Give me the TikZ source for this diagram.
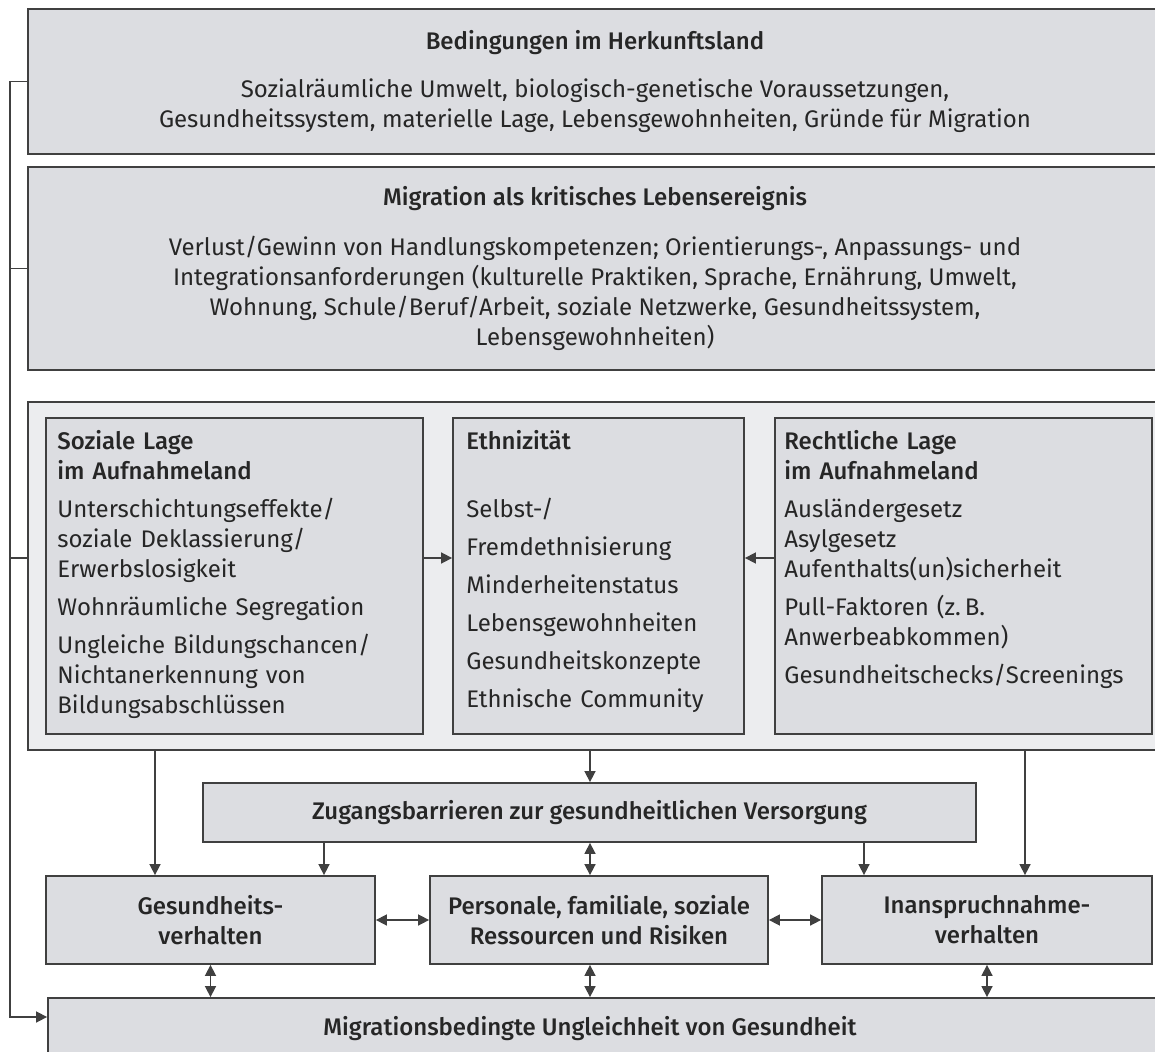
\documentclass[tikz,border=0pt]{standalone}
\usepackage{fontspec}
\setmainfont{Fira Sans}[BoldFont={Fira Sans Medium}]
\usetikzlibrary{arrows.meta,fit}

\definecolor{boxgray}{RGB}{220,221,225}
\definecolor{framegray}{RGB}{236,237,239}
\definecolor{linegray}{RGB}{64,64,64}
\definecolor{txtgray}{RGB}{38,38,38}

\tikzset{
  box/.style={draw=linegray, line width=0.9pt, fill=boxgray, inner sep=0pt},
  frame/.style={box, fill=framegray},
  boxtxt/.style={text=txtgray, inner sep=0pt, align=center, anchor=center},
  txt/.style={text=txtgray, inner sep=0pt, align=left, text width=#1, anchor=base west},
  rail/.style={draw=linegray, line width=0.8pt},
  arr/.style={rail, -{Triangle[length=5.5pt,width=5.5pt]}},
  darr/.style={rail, {Triangle[length=5.5pt,width=5.5pt]}-{Triangle[length=5.5pt,width=5.5pt]}},
}

\begin{document}
\begin{tikzpicture}[x=0.5pt, y=-0.5pt, font=\fontsize{12}{15}\selectfont]
  \useasboundingbox (0,0) rectangle (1155,1052);
  \clip (0,0) rectangle (1155,1052);

  % Herkunftsland
  \node[box, fit={(28,9) (1162,154)}] (herkunft) {};
  \node[boxtxt] (herkunfttxt) at (herkunft.center) {\textbf{Bedingungen im Herkunftsland}\\[9pt]
    Sozialräumliche Umwelt, biologisch-genetische Voraussetzungen,\\
    Gesundheitssystem, materielle Lage, Lebensgewohnheiten, Gründe für Migration};

  % Migration
  \node[box, fit={(28,167) (1162,370)}] (migration) {};
  \node[boxtxt] (migrationtxt) at (migration.center) {\textbf{Migration als kritisches Lebensereignis}\\[10pt]
    Verlust/Gewinn von Handlungskompetenzen; Orientierungs-, Anpassungs- und\\
    Integrationsanforderungen (kulturelle Praktiken, Sprache, Ernährung, Umwelt,\\
    Wohnung, Schule/Beruf/Arbeit, soziale Netzwerke, Gesundheitssystem,\\
    Lebensgewohnheiten)};

  % Aufnahmeland (gray frame with three boxes)
  \node[frame, fit={(28,402) (1162,750)}] (lage) {};
  \node[box, fit={(46,418) (423,734)}] (sozial) {};
  \node[box, fit={(453,418) (744,734)}] (ethnie) {};
  \node[box, fit={(775,418) (1152,734)}] (recht) {};

  \node[txt=180pt] (sozialtxt) at (57,450) {\textbf{Soziale Lage}\\ \textbf{im Aufnahmeland}\\[4pt]
    Unterschichtungseffekte/\\ soziale Deklassierung/\\ Erwerbslosigkeit\\[4pt]
    Wohnräumliche Segregation\\[4pt]
    Ungleiche Bildungschancen/\\ Nichtanerkennung von\\ Bildungsabschlüssen};
  \node[txt=140pt] (ethnietxt) at (466,450) {\textbf{Ethnizität}\\[19pt]
    Selbst-/\\[4pt] Fremdethnisierung\\[4pt] Minderheitenstatus\\[4pt]
    Lebensgewohnheiten\\[4pt] Gesundheitskonzepte\\[4pt] Ethnische Community};
  \node[txt=182pt] (rechttxt) at (784,450) {\textbf{Rechtliche Lage}\\ \textbf{im Aufnahmeland}\\[4pt]
    Ausländergesetz\\ Asylgesetz\\ Aufenthalts(un)sicherheit\\[4pt]
    Pull-Faktoren (z.\,B.\\ Anwerbeabkommen)\\[4pt]
    Gesundheitschecks/Screenings};

  % lower part
  \node[box, fit={(203,783) (976,842)}] (zugang) {};
  \node[box, fit={(46,876) (375,964)}] (gesund) {};
  \node[box, fit={(430,876) (768,964)}] (person) {};
  \node[box, fit={(822,876) (1152,964)}] (inanspr) {};
  \node[box, fit={(48,998) (1162,1062)}] (ungleich) {};

  \node[boxtxt] (zugangtxt) at (zugang.center) {\textbf{Zugangsbarrieren zur gesundheitlichen Versorgung}};
  \node[boxtxt] (gesundtxt) at (gesund.center) {\textbf{Gesundheits-}\\ \textbf{verhalten}};
  \node[boxtxt] (persontxt) at (person.center) {\textbf{Personale, familiale, soziale}\\ \textbf{Ressourcen und Risiken}};
  \node[boxtxt] (inansprtxt) at (inanspr.center) {\textbf{Inanspruchnahme-}\\ \textbf{verhalten}};
  \node[text=txtgray, anchor=base, inner sep=0pt] (ungleichtxt) at (590,1035)
    {\textbf{Migrationsbedingte Ungleichheit von Gesundheit}};

  % helper coordinates
  \coordinate (rail) at (10,1017);
  \coordinate (mid) at (0,558);
  \coordinate (xa) at (155,0);
  \coordinate (xb) at (324,0);
  \coordinate (xc) at (590,0);
  \coordinate (xd) at (864,0);
  \coordinate (xe) at (1025,0);

  % left rail
  \draw[arr] (herkunft.west) -| (rail) -- (rail -| ungleich.west);
  \draw[rail] (migration.west) -- (migration.west -| rail);
  \draw[rail] (lage.west |- mid) -- (rail |- mid);

  % inside the frame
  \draw[arr] (sozial.east |- mid) -- (ethnie.west |- mid);
  \draw[arr] (recht.west |- mid) -- (ethnie.east |- mid);

  % down from the frame
  \draw[arr] (lage.south -| xa) -- (gesund.north -| xa);
  \draw[arr] (lage.south -| xc) -- (zugang.north -| xc);
  \draw[arr] (lage.south -| xe) -- (inanspr.north -| xe);
  \draw[arr] (zugang.south -| xb) -- (gesund.north -| xb);
  \draw[arr] (zugang.south -| xd) -- (inanspr.north -| xd);
  \draw[darr] (zugang.south -| xc) -- (person.north -| xc);

  % row of three
  \draw[darr] (gesund.east) -- (person.west);
  \draw[darr] (person.east) -- (inanspr.west);
  \draw[darr] (gesund.south) -- (gesund.south |- ungleich.north);
  \draw[darr] (person.south -| xc) -- (ungleich.north -| xc);
  \draw[darr] (inanspr.south) -- (inanspr.south |- ungleich.north);
\end{tikzpicture}
\end{document}
